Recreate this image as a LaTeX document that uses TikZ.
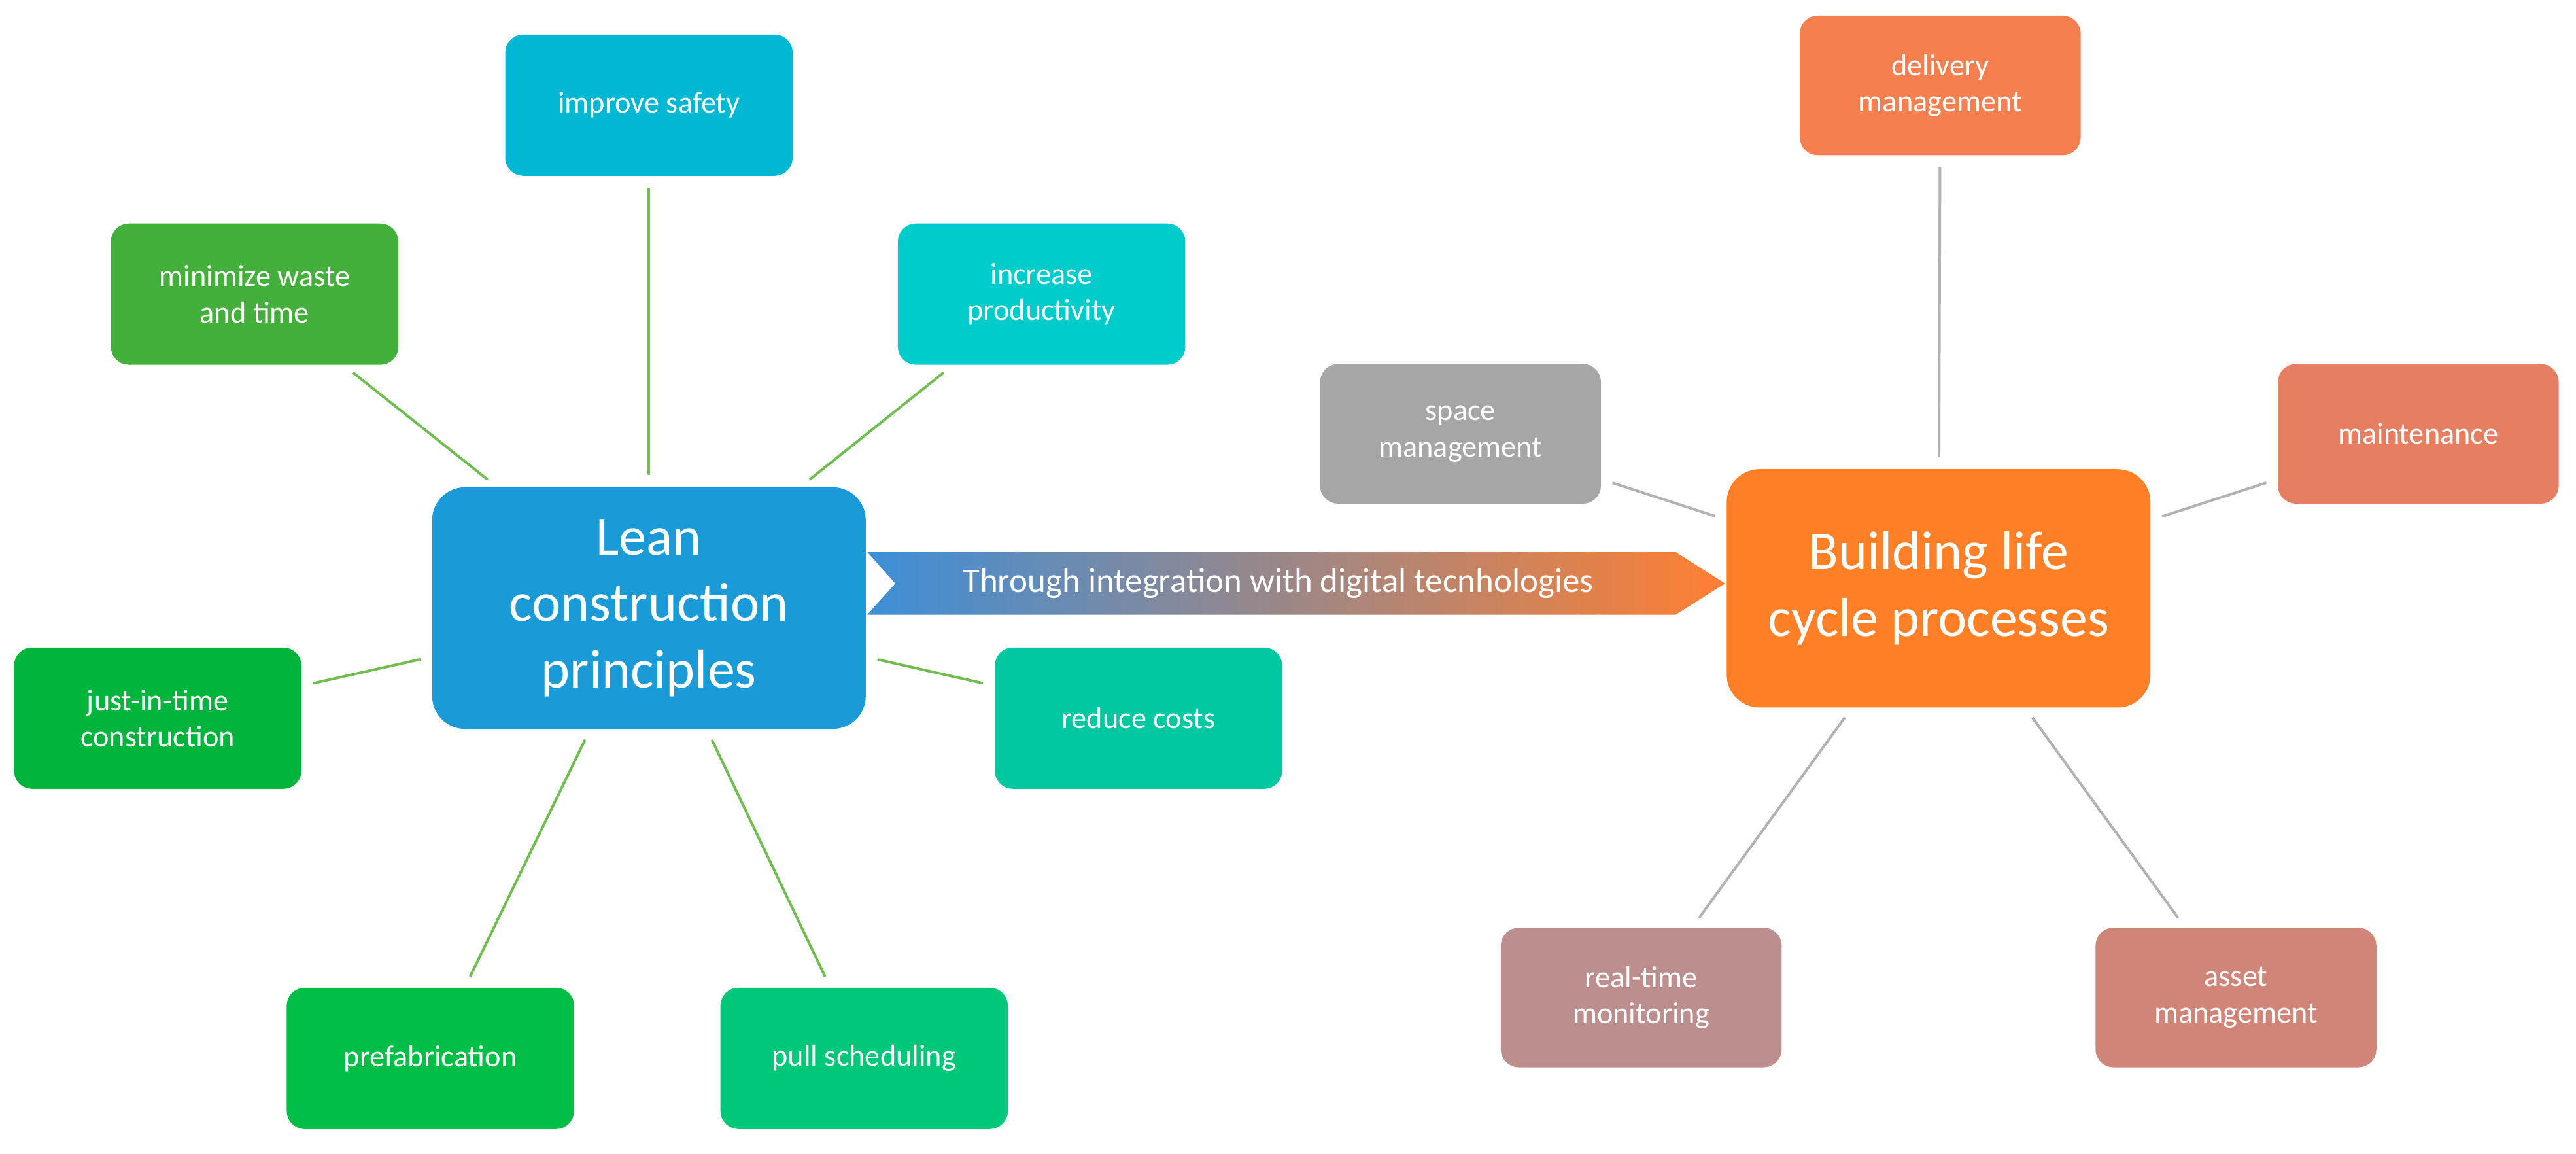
\documentclass[tikz,border=0pt]{standalone}
\usepackage{fontspec}
\setmainfont{Carlito}
\begin{document}
\begin{tikzpicture}[x=0.02cm,y=-0.02cm,
 box/.style={rounded corners=0.22cm,text=white,align=center,font=\fontsize{10.5}{12.5}\selectfont,inner sep=0pt},
 sm/.style={box,minimum width=3.5cm,minimum height=1.72cm},
 gm/.style={box,minimum width=3.42cm,minimum height=1.7cm},
 big/.style={box,font=\fontsize{19}{23}\selectfont,rounded corners=0.4cm},
 gl/.style={draw=green!55!black!70!white,line width=0.9pt,shorten >=4pt,shorten <=4pt},
 ol/.style={draw=gray!60,line width=0.9pt,shorten >=4pt,shorten <=4pt}]
\useasboundingbox (0,0) rectangle (1568,702);
\definecolor{cgl}{RGB}{112,190,80}
\tikzset{gl/.append style={draw=cgl}}
\node[big,fill={rgb,255:red,26;green,154;blue,214},minimum width=5.28cm,minimum height=2.94cm] (lean) at (395,370) {Lean\\construction\\principles};
\node[big,fill={rgb,255:red,255;green,127;blue,39},minimum width=5.16cm,minimum height=2.9cm] (bld) at (1180,358) {Building life\\cycle processes};
\node[sm,fill={rgb,255:red,0;green,183;blue,212}] (safety) at (395,64) {improve safety};
\node[sm,fill={rgb,255:red,68;green,176;blue,60}] (waste) at (155,179) {minimize waste\\and time};
\node[sm,fill={rgb,255:red,0;green,204;blue,204}] (prod) at (634,179) {increase\\productivity};
\node[sm,fill={rgb,255:red,0;green,180;blue,60}] (jit) at (96,437) {just-in-time\\construction};
\node[sm,fill={rgb,255:red,0;green,200;blue,160}] (cost) at (693,437) {reduce costs};
\node[sm,fill={rgb,255:red,0;green,190;blue,70}] (pre) at (262,644) {prefabrication};
\node[sm,fill={rgb,255:red,0;green,200;blue,120}] (pull) at (526,644) {pull scheduling};
\node[gm,fill={rgb,255:red,245;green,127;blue,79}] (del) at (1181,52) {delivery\\management};
\node[gm,fill={rgb,255:red,166;green,166;blue,166}] (space) at (889,264) {space\\management};
\node[gm,fill={rgb,255:red,230;green,126;blue,98}] (maint) at (1472,264) {maintenance};
\node[gm,fill={rgb,255:red,188;green,143;blue,142}] (rt) at (999,607) {real-time\\monitoring};
\node[gm,fill={rgb,255:red,209;green,133;blue,120}] (asset) at (1361,607) {asset\\management};
\foreach \n in {safety,waste,prod,jit,cost,pre,pull} \draw[gl] (lean) -- (\n);
\foreach \n in {del,space,maint,rt,asset} \draw[ol] (bld) -- (\n);
\shade[left color={rgb,255:red,61;green,143;blue,216},middle color={rgb,255:red,222;green,150;blue,170},right color={rgb,255:red,255;green,127;blue,50}]
 (528,336) -- (1020,336) -- (1050,355) -- (1020,374) -- (528,374) -- (545,355) -- cycle;
\node[text=white,font=\fontsize{12}{14}\selectfont] (arr) at (778,355) {Through integration with digital tecnhologies};
\end{tikzpicture}
\end{document}
